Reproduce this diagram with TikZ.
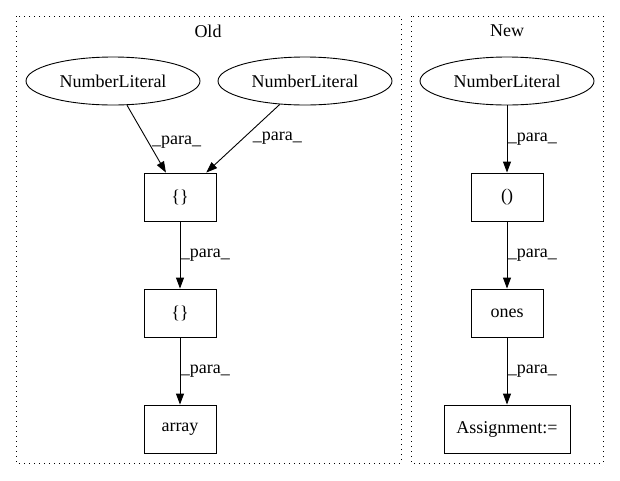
\documentclass[tikz,border=0pt]{standalone}
\usepackage{fontspec}
\setmainfont{Liberation Serif}
\usetikzlibrary{shapes.geometric}
\usetikzlibrary{arrows.meta}

\tikzset{
	lit/.style={draw, ellipse, minimum width=174pt, minimum height=48pt, inner sep=0pt},
	box/.style={draw, rectangle, minimum width=72pt, minimum height=48pt, inner xsep=8pt},
	para/.style={-{Triangle[length=11pt,width=8pt]}},
	cluster/.style={dash pattern=on 1pt off 4pt}
}

\begin{document}
\begin{tikzpicture}[x=1pt,y=-1pt,line width=0.9pt,font=\fontsize{18}{20}\selectfont]
						\useasboundingbox (0,0) rectangle (620,480);
						\draw[cluster] (16,16) rectangle (401,463);
						\draw[cluster] (411,16) rectangle (603,463);
						\node (oldtitle) at (208,31) {Old};
						\node (newtitle) at (507,31) {New};
						\node[lit] (lita) at (113,81) {NumberLiteral};
						\node[lit] (litb) at (305,81) {NumberLiteral};
						\node[box] (bracea) at (180,197) {\{\}};
						\node[box] (braceb) at (180,313) {\{\}};
						\node[box] (array) at (180,429) {array};
						\node[lit] (litc) at (507,81) {NumberLiteral};
						\node[box] (tuple) at (507,197) {()};
						\node[box] (ones) at (507,313) {ones};
						\node[box, minimum width=126pt] (assign) at (507,429) {Assignment:=};
						\draw[para] (lita) -- node[right=0pt, pos=0.55] {\_para\_} (bracea);
						\draw[para] (litb) -- node[right=6pt, pos=0.5] {\_para\_} (bracea);
						\draw[para] (bracea) -- node[right=-3pt] {\_para\_} (braceb);
						\draw[para] (braceb) -- node[right=-3pt] {\_para\_} (array);
						\draw[para] (litc) -- node[right=-3pt] {\_para\_} (tuple);
						\draw[para] (tuple) -- node[right=-3pt] {\_para\_} (ones);
						\draw[para] (ones) -- node[right=-3pt] {\_para\_} (assign);
					\end{tikzpicture}
\end{document}
